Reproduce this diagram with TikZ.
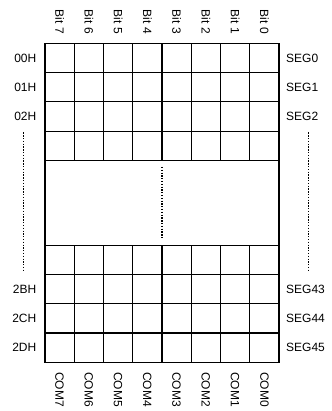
\documentclass[tikz,border=0pt]{standalone}
\usepackage{fontspec}
\setmainfont{Liberation Sans}
\begin{document}
\begin{tikzpicture}[x=1pt,y=-1pt,
  gridline/.style={line width=1.2pt,black},
  dotline/.style={line width=1.3pt,black,dash pattern=on 1.3pt off 1.5pt},
  lbl/.style={font=\fontsize{12}{14}\selectfont,inner sep=0pt},
  vlbl/.style={lbl,rotate=-90,anchor=west}]
\useasboundingbox (0,0) rectangle (331,411);
% grid
\def\cw{29.25}
\def\rh{29.3}
\foreach \i in {1,...,7}{
  \draw[gridline] ({45+\i*\cw},43.3) -- ({45+\i*\cw},160.5);
  \draw[gridline] ({45+\i*\cw},245.1) -- ({45+\i*\cw},362.3);
}
\foreach \j in {1,...,4}{
  \draw[gridline] (45,{43.3+\j*\rh}) -- (279,{43.3+\j*\rh});
  \draw[gridline] (45,{362.3-\j*\rh}) -- (279,{362.3-\j*\rh});
}
\draw[gridline] (45,43.3) rectangle (279,362.3);
% dotted lines
\coordinate (mt) at (162,167);
\coordinate (mb) at (162,239);
\draw[dotline] (mt) -- (mb);
\coordinate (lt) at (23.3,132.5);
\coordinate (lb) at (23.3,272);
\draw[dotline] (lt) -- (lb);
\coordinate (rt) at (308.3,132.5);
\coordinate (rb) at (308.3,272);
\draw[dotline] (rt) -- (rb);
% top and bottom labels
\foreach \t [count=\i from 0] in {7,6,5,4,3,2,1,0}{
  \node[vlbl] (bit\t) at ({45+(\i+0.5)*\cw},9.5) {Bit~\t};
  \node[vlbl] (com\t) at ({45+(\i+0.5)*\cw},372) {COM\t};
}
% left labels
\node[lbl,anchor=east] (a00) at (36.5,{43.3+0.5*\rh}) {00H};
\node[lbl,anchor=east] (a01) at (36.5,{43.3+1.5*\rh}) {01H};
\node[lbl,anchor=east] (a02) at (36.5,{43.3+2.5*\rh}) {02H};
\node[lbl,anchor=east] (a2b) at (36.5,{362.3-2.5*\rh}) {2BH};
\node[lbl,anchor=east] (a2c) at (36.5,{362.3-1.5*\rh}) {2CH};
\node[lbl,anchor=east] (a2d) at (36.5,{362.3-0.5*\rh}) {2DH};
% right labels
\node[lbl,anchor=west] (s0) at (286,{43.3+0.5*\rh}) {SEG0};
\node[lbl,anchor=west] (s1) at (286,{43.3+1.5*\rh}) {SEG1};
\node[lbl,anchor=west] (s2) at (286,{43.3+2.5*\rh}) {SEG2};
\node[lbl,anchor=west] (s43) at (286,{362.3-2.5*\rh}) {SEG43};
\node[lbl,anchor=west] (s44) at (286,{362.3-1.5*\rh}) {SEG44};
\node[lbl,anchor=west] (s45) at (286,{362.3-0.5*\rh}) {SEG45};
\end{tikzpicture}
\end{document}
